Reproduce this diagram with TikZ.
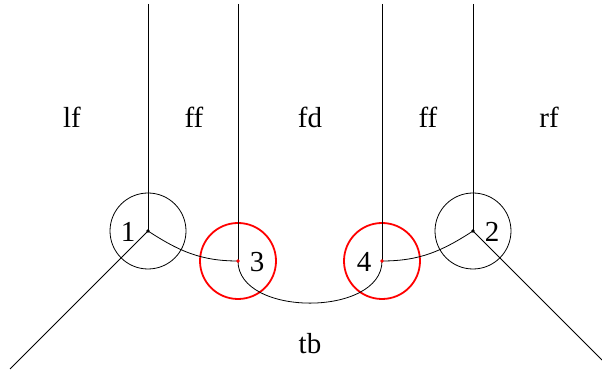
\documentclass[tikz,border=0pt]{standalone}
\usepackage{fontspec}
\setmainfont{Liberation Serif}
\begin{document}
\begin{tikzpicture}[x=1pt,y=1pt,
  edge/.style={line width=0.8pt,black},
  lab/.style={anchor=base,inner sep=0pt,font=\fontsize{29}{34}\selectfont},
  blackring/.style={circle,draw=black,line width=0.8pt,minimum size=76pt,inner sep=0pt},
  redring/.style={circle,draw=red,line width=1.8pt,minimum size=76pt,inner sep=0pt}]
\useasboundingbox (0,0) rectangle (602,374);
% vertices
\coordinate (v1) at (148,143);
\coordinate (v3) at (238,113);
\coordinate (v4) at (382,113);
\coordinate (v2) at (473,143);
\coordinate (t1) at (148,370);
\coordinate (t3) at (238,370);
\coordinate (t4) at (382,370);
\coordinate (t2) at (473,370);
\coordinate (e1) at (10,5);
\coordinate (e2) at (602,14);
% rings
\node[blackring] (c1) at (v1) {};
\node[blackring] (c2) at (v2) {};
\node[redring] (c3) at (v3) {};
\node[redring] (c4) at (v4) {};
% edges
\draw[edge] (t1) -- (v1);
\draw[edge] (t3) -- (v3);
\draw[edge] (t4) -- (v4);
\draw[edge] (t2) -- (v2);
\draw[edge] (v1) -- (e1);
\draw[edge] (v2) -- (e2);
\draw[edge] (v1) to[out=-33,in=180] (v3);
\draw[edge] (v3) to[out=-90,in=-90] (v4);
\draw[edge] (v4) to[out=0,in=213] (v2);
% dots
\fill[black] (v1) circle (1.8);
\fill[black] (v2) circle (1.8);
\fill[red] (v3) circle (1.8);
\fill[red] (v4) circle (1.8);
% labels
\node[lab] (n1) at (128,132) {1};
\node[lab] (n3) at (257,102) {3};
\node[lab] (n4) at (364,102) {4};
\node[lab] (n2) at (492,132) {2};
\node[lab] (lf) at (72,246) {lf};
\node[lab] (ff1) at (194,246) {ff};
\node[lab] (fd) at (310,246) {fd};
\node[lab] (ff2) at (428,246) {ff};
\node[lab] (rf) at (549,246) {rf};
\node[lab] (tb) at (310,20) {tb};
\end{tikzpicture}
\end{document}
